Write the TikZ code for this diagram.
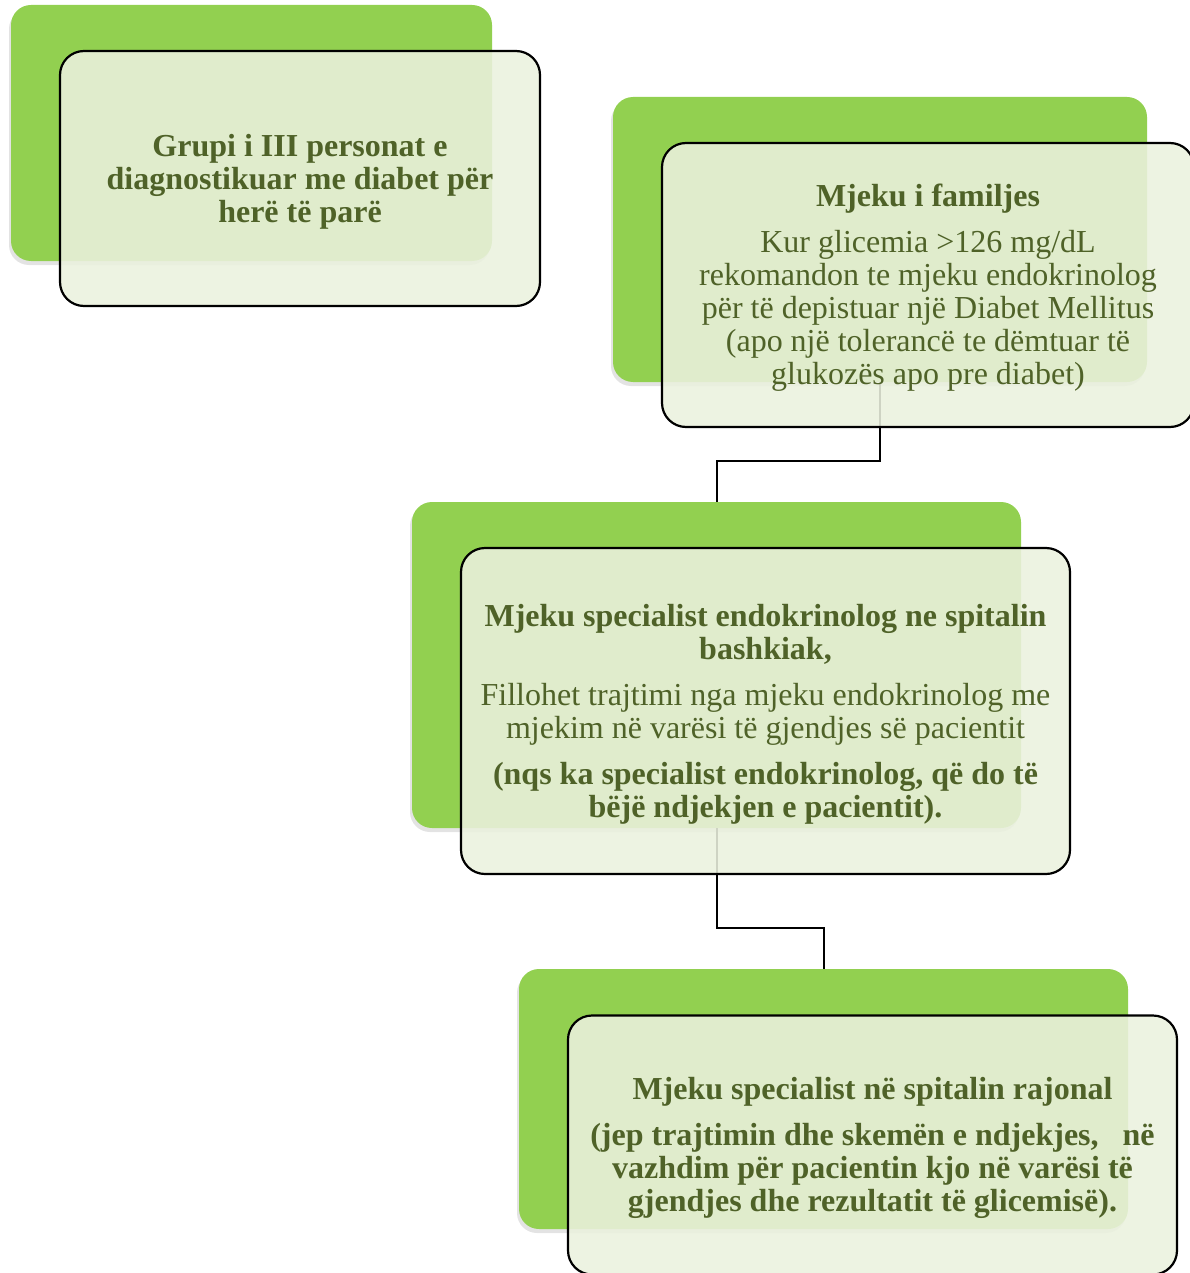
\documentclass[tikz,border=0pt]{standalone}
\usepackage{fontspec}
\setmainfont{Liberation Serif}
\usetikzlibrary{shadows,calc}
\definecolor{leafgreen}{HTML}{92D050}
\definecolor{paneltint}{HTML}{EBF1DE}
\definecolor{olivetext}{HTML}{4F6228}
\begin{document}
\begin{tikzpicture}[x=1pt,y=-1pt,
  backcard/.style={fill=leafgreen, rounded corners=20pt, inner sep=0pt,
    drop shadow={shadow xshift=-2pt, shadow yshift=-4pt, opacity=0.22}},
  frontcard/.style={fill=paneltint, fill opacity=0.88,
    draw=black, draw opacity=1, line width=2.2pt, rounded corners=24pt, inner sep=0pt},
  cardtext/.style={text=olivetext, align=center, inner sep=0pt, yshift=-3pt,
    font=\fontsize{32}{33}\selectfont},
  wire/.style={draw=black, line width=2pt}]
\useasboundingbox (0,0) rectangle (1190,1273);

% green backing cards
\node[backcard, minimum width=481pt, minimum height=256pt] (g1) at (251.5,133) {};
\node[backcard, minimum width=534pt, minimum height=285pt] (g2) at (880,239.5) {};
\node[backcard, minimum width=609pt, minimum height=326pt] (g3) at (716.5,665) {};
\node[backcard, minimum width=609pt, minimum height=260pt] (g4) at (823.5,1099) {};

% elbow connectors between the stages
\coordinate (k1) at (0,461);
\coordinate (k2) at (0,928);
\draw[wire] (g2.south) -- (g2.south |- k1) -| (g3.north);
\draw[wire] (g3.south) -- (g3.south |- k2) -| (g4.north);

% translucent cards on top
\node[frontcard, minimum width=480pt, minimum height=255pt] (f1) at (300,178.5) {};
\node[frontcard, minimum width=532pt, minimum height=284pt] (f2) at (928,285) {};
\node[frontcard, minimum width=609pt, minimum height=326pt] (f3) at (765.5,711) {};
\node[frontcard, minimum width=609pt, minimum height=259pt] (f4) at (872.5,1145) {};

% card texts
\node[cardtext] (t1) at (f1.center)
  {\bfseries Grupi i III personat e\\\bfseries diagnostikuar me diabet për\\\bfseries herë të parë};
\node[cardtext] (t2) at (f2.center)
  {\bfseries Mjeku i familjes\\[13pt]
   Kur glicemia >126 mg/dL\\rekomandon te mjeku endokrinolog\\për të depistuar një Diabet Mellitus\\(apo një tolerancë te dëmtuar të\\glukozës apo pre diabet)};
\node[cardtext] (t3) at (f3.center)
  {\bfseries Mjeku specialist endokrinolog ne spitalin\\\bfseries bashkiak,\\[13pt]
   Fillohet trajtimi nga mjeku endokrinolog me\\mjekim në varësi të gjendjes së pacientit\\[13pt]
   \bfseries (nqs ka specialist endokrinolog, që do të\\\bfseries bëjë ndjekjen e pacientit).};
\node[cardtext] (t4) at (f4.center)
  {\bfseries Mjeku specialist në spitalin rajonal\\[13pt]
   \bfseries (jep trajtimin dhe skemën e ndjekjes,\ \ \ në\\\bfseries vazhdim për pacientin kjo në varësi të\\\bfseries gjendjes dhe rezultatit të glicemisë).};
\end{tikzpicture}
\end{document}
